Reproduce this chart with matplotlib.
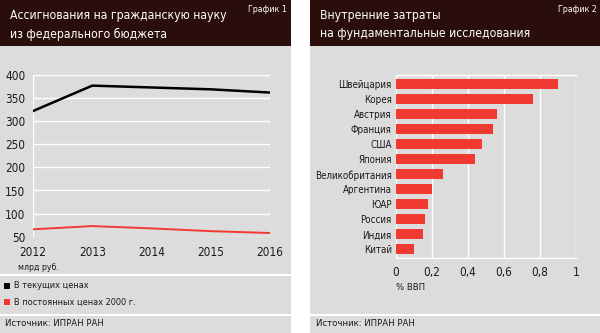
import matplotlib
matplotlib.use("Agg")
import matplotlib.pyplot as plt
from matplotlib.patches import Rectangle

# --- data ---
years = [2012, 2013, 2014, 2015, 2016]
current_prices = [322, 377, 373, 369, 362]
const_prices = [66, 73, 68, 62, 58]
y_ticks = [50, 100, 150, 200, 250, 300, 350, 400]

countries = ["Швейцария", "Корея", "Австрия", "Франция", "США", "Япония",
             "Великобритания", "Аргентина", "ЮАР", "Россия", "Индия", "Китай"]
gdp_share = [0.90, 0.76, 0.56, 0.54, 0.48, 0.44, 0.26, 0.20, 0.18, 0.16, 0.15, 0.10]
x_ticks = [0, 0.2, 0.4, 0.6, 0.8, 1]
x_ticklabels = ["0", "0,2", "0,4", "0,6", "0,8", "1"]

HEAD = "#2a0e0b"
PANEL = "#dcdcdc"
RED = "#f03a31"
INK = "#1a1a1a"
W, H = 600, 333

plt.rcParams["font.family"] = ["DejaVu Sans"]
plt.rcParams["font.stretch"] = "condensed"

fig = plt.figure(figsize=(6, 3.33), dpi=100)
fig.patch.set_facecolor("white")


def px_rect(x, y, w, h, z=-2, **kw):
    fig.patches.append(Rectangle((x / W, 1 - (y + h) / H), w / W, h / H,
                                 transform=fig.transFigure, zorder=z, **kw))


def px_axes(x0, y0, x1, y1):
    a = fig.add_axes([x0 / W, 1 - y1 / H, (x1 - x0) / W, (y1 - y0) / H])
    a.set_zorder(2)
    return a


def ftext(x, y, s, **kw):
    fig.text(x / W, 1 - y / H, s, **kw)


# panels
for x0, x1 in ((0, 291), (310, 600)):
    px_rect(x0, 0, x1 - x0, H, color=PANEL, lw=0, z=-3)
    px_rect(x0, 0, x1 - x0, 46, color=HEAD, lw=0)
    px_rect(x0, 314, x1 - x0, 1.5, color="white", lw=0)
px_rect(0, 274, 291, 1.5, color="white", lw=0)

# headers
ftext(10, 15, "Ассигнования на гражданскую науку", color="white", fontsize=8.7, va="center")
ftext(10, 34, "из федерального бюджета", color="white", fontsize=8.7, va="center")
ftext(287, 9, "График 1", color="white", fontsize=6.3, va="center", ha="right")
ftext(320, 15, "Внутренние затраты", color="white", fontsize=8.7, va="center")
ftext(320, 34, "на фундаментальные исследования", color="white", fontsize=8.7, va="center")
ftext(597, 9, "График 2", color="white", fontsize=6.3, va="center", ha="right")

# left chart
ax = px_axes(33, 75, 270, 236.7)
ax.set_facecolor("none")
ax.plot(years, current_prices, color="black", lw=1.8, zorder=3)
ax.plot(years, const_prices, color=RED, lw=1.4, zorder=3)
ax.set_xlim(2012, 2016)
ax.set_ylim(50, 400)
ax.set_yticks(y_ticks)
ax.set_xticks(years)
ax.grid(True, axis="y", color="white", lw=1)
for s in ax.spines.values():
    s.set_visible(False)
ax.axvline(2012, color="white", lw=1, zorder=1)
ax.axvline(2016, color="white", lw=1, zorder=1)
ax.tick_params(length=0, labelsize=8.5, colors=INK)
ax.tick_params(axis="x", pad=7)
ax.tick_params(axis="y", pad=5.5)
ftext(18, 267, "млрд руб.", fontsize=6.3, color=INK, va="center")

# legend
px_rect(4, 283, 6, 6, z=1, color="black", lw=0)
ftext(14, 286, "В текущих ценах", fontsize=6.6, color=INK, va="center")
px_rect(4, 299, 6, 6, z=1, color=RED, lw=0)
ftext(14, 302, "В постоянных ценах 2000 г.", fontsize=6.6, color=INK, va="center")

# right chart
bx = px_axes(396, 75, 576, 258)
bx.set_facecolor("none")
ypos = list(range(len(countries)))
bx.barh(ypos, gdp_share, height=0.66, color=RED, zorder=3)
bx.set_xlim(0, 1)
bx.set_ylim(len(countries) - 0.42, -0.62)
bx.set_yticks(ypos)
bx.set_yticklabels(countries)
bx.set_xticks(x_ticks)
bx.set_xticklabels(x_ticklabels)
bx.grid(True, axis="x", color="white", lw=1)
bx.set_axisbelow(True)
for s in ("left", "right"):
    bx.spines[s].set_visible(False)
for s in ("top", "bottom"):
    bx.spines[s].set_color("white")
    bx.spines[s].set_linewidth(1)
bx.tick_params(length=0, colors=INK)
bx.tick_params(axis="y", labelsize=7, pad=3)
bx.tick_params(axis="x", labelsize=8.5, pad=6)
ftext(396, 288, "% ВВП", fontsize=6.8, color=INK, va="center")

# sources
ftext(5, 324, "Источник: ИПРАН РАН", fontsize=6.8, color=INK, va="center")
ftext(316, 324, "Источник: ИПРАН РАН", fontsize=6.8, color=INK, va="center")

fig.savefig("out.png", dpi=100, facecolor="white")
